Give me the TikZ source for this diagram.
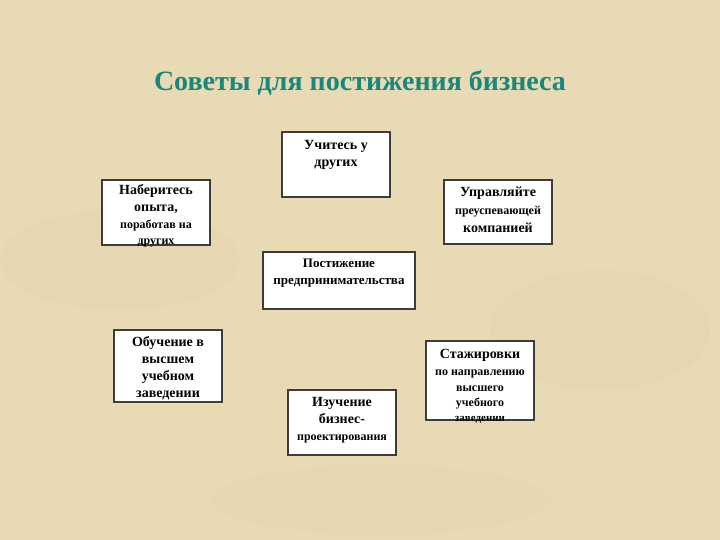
\documentclass[tikz,border=0pt]{standalone}
\usepackage{fontspec}
\setmainfont{Liberation Serif}
\usepackage{tikz}
\usetikzlibrary{positioning}

\definecolor{parchment}{RGB}{233,218,182}
\definecolor{parchdark}{RGB}{222,204,162}
\definecolor{titleteal}{RGB}{24,136,124}
\definecolor{boxedge}{RGB}{64,60,56}

\newcommand\tipsmall{\fontsize{12}{15}\selectfont}

\tikzset{
    tipbox/.style = {draw = boxedge, line width = 1.3pt, fill = white,
                     minimum width = 108pt, inner sep = 0pt},
    tiptext/.style = {align = center, font = \bfseries\fontsize{14}{17}\selectfont,
                      inner sep = 0pt, anchor = north}
}

\begin{document}
\begin{tikzpicture}[x = 1pt, y = -1pt]
    % Background:
    \fill [parchment] (0,0) rectangle (720,540);
    \fill [parchdark, opacity = .2] (120,260) ellipse (120 and 50);
    \fill [parchdark, opacity = .2] (600,330) ellipse (110 and 60);
    \fill [parchdark, opacity = .15] (380,500) ellipse (170 and 35);
    \useasboundingbox (0,0) rectangle (720,540);

    % Title:
    \node [font = \bfseries\fontsize{28}{32}\selectfont, text = titleteal] (title) at (360,83)
        {Советы для постижения бизнеса};

    % Draw the boxes:
    \node [tipbox, minimum height = 65pt] (others)  at (336,164.5) {};
    \node [tipbox, minimum height = 65pt] (exper)   at (156,212.5) {};
    \node [tipbox, minimum height = 64pt] (manage)  at (498,212)   {};
    \node [tipbox, minimum width = 152pt, minimum height = 57pt] (core) at (339,280.5) {};
    \node [tipbox, minimum height = 72pt] (study)   at (168,366)   {};
    \node [tipbox, minimum height = 79pt] (intern)  at (480,380.5) {};
    \node [tipbox, minimum height = 65pt] (design)  at (342,422.5) {};

    % Texts inside the boxes:
    \node [tiptext, yshift = -9pt] (othersT) at (others.north) {Учитесь у\\других};
    \node [tiptext, yshift = -5pt] (experT) at (exper.north)
        {Наберитесь\\опыта,\\{\tipsmall поработав на}\\[-1pt]{\tipsmall других}};
    \node [tiptext, yshift = -7pt] (manageT) at (manage.north)
        {Управляйте\\[1pt]{\tipsmall преуспевающей}\\[1pt]компанией};
    \node [tiptext, yshift = -7pt, font = \bfseries\fontsize{13}{17}\selectfont] (coreT) at (core.north)
        {Постижение\\предпринимательства};
    \node [tiptext, yshift = -7pt] (studyT) at (study.north)
        {Обучение в\\высшем\\учебном\\заведении};
    \node [tiptext, yshift = -9pt] (internT) at (intern.north)
        {Стажировки\\{\tipsmall по направлению}\\[-1pt]{\tipsmall высшего}\\[-2pt]
         {\tipsmall учебного}\\[-2pt]{\fontsize{11}{14}\selectfont заведении}};
    \node [tiptext, yshift = -8pt] (designT) at (design.north)
        {Изучение\\бизнес-\\{\tipsmall проектирования}};
\end{tikzpicture}
\end{document}
